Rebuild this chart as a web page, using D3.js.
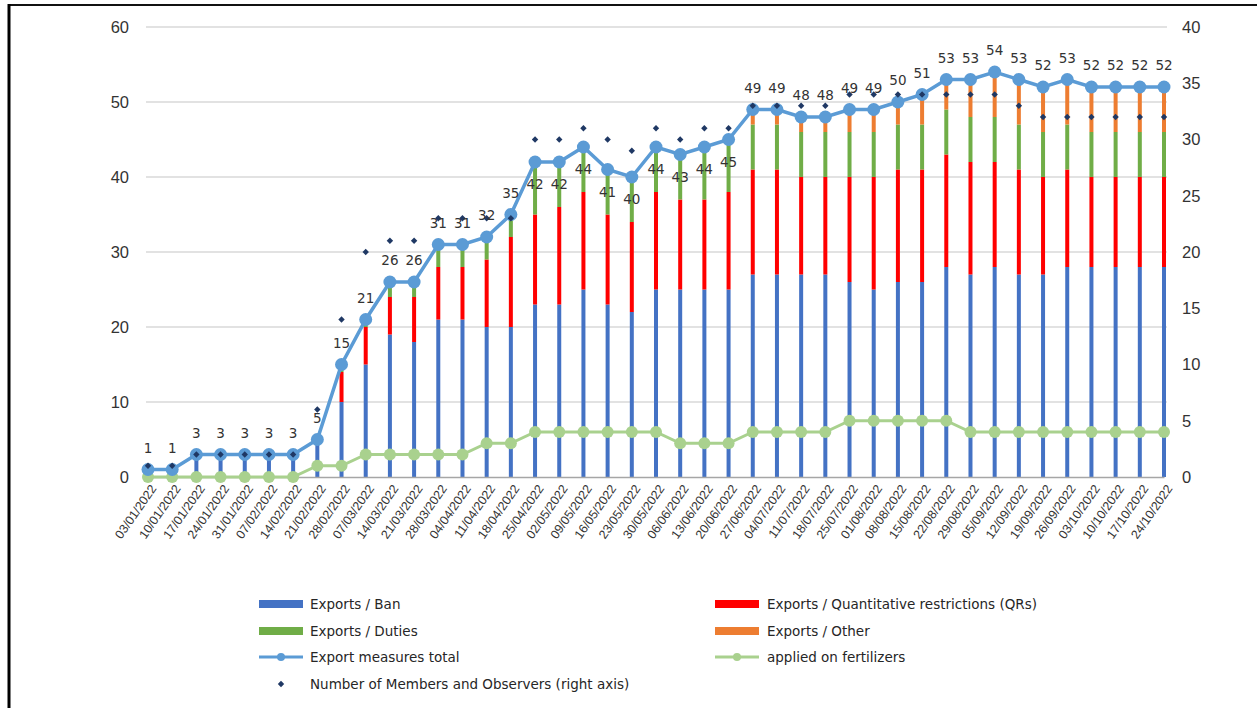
<!DOCTYPE html>
<html>
<head>
<meta charset="utf-8">
<script src="https://cdn.jsdelivr.net/npm/d3@7"></script>
<style>
  body { margin: 0; background: #fff; }
  svg { display: block; font-family: "DejaVu Sans", Verdana, sans-serif; }
</style>
</head>
<body>
<div id="chart"></div>
<script>
const dates = [
  '03/01/2022', '10/01/2022', '17/01/2022', '24/01/2022', '31/01/2022', '07/02/2022', '14/02/2022',
  '21/02/2022', '28/02/2022', '07/03/2022', '14/03/2022', '21/03/2022', '28/03/2022', '04/04/2022',
  '11/04/2022', '18/04/2022', '25/04/2022', '02/05/2022', '09/05/2022', '16/05/2022', '23/05/2022',
  '30/05/2022', '06/06/2022', '13/06/2022', '20/06/2022', '27/06/2022', '04/07/2022', '11/07/2022',
  '18/07/2022', '25/07/2022', '01/08/2022', '08/08/2022', '15/08/2022', '22/08/2022', '29/08/2022',
  '05/09/2022', '12/09/2022', '19/09/2022', '26/09/2022', '03/10/2022', '10/10/2022', '17/10/2022',
  '24/10/2022'
];

const ban = [1, 1, 3, 3, 3, 3, 3, 5, 10, 15, 19, 18, 21, 21, 20, 20, 23, 23, 25, 23, 22, 25, 25, 25, 25,
  27, 27, 27, 27, 26, 25, 26, 26, 28, 27, 28, 27, 27, 28, 28, 28, 28, 28];
const qrs = [0, 0, 0, 0, 0, 0, 0, 0, 4, 5, 5, 6, 7, 7, 9, 12, 12, 13, 13, 12, 12, 13, 12, 12, 13,
  14, 14, 13, 13, 14, 15, 15, 15, 15, 15, 14, 14, 13, 13, 12, 12, 12, 12];
const duties = [0, 0, 0, 0, 0, 0, 0, 0, 1, 1, 2, 2, 3, 3, 3, 3, 7, 6, 6, 6, 6, 6, 6, 7, 7,
  6, 6, 6, 6, 6, 6, 6, 6, 6, 6, 6, 6, 6, 6, 6, 6, 6, 6];
const other = [0, 0, 0, 0, 0, 0, 0, 0, 0, 0, 0, 0, 0, 0, 0, 0, 0, 0, 0, 0, 0, 0, 0, 0, 0,
  2, 2, 2, 2, 3, 3, 3, 4, 4, 5, 6, 6, 6, 6, 6, 6, 6, 6];
const total = [1, 1, 3, 3, 3, 3, 3, 5, 15, 21, 26, 26, 31, 31, 32, 35, 42, 42, 44, 41, 40, 44, 43, 44, 45,
  49, 49, 48, 48, 49, 49, 50, 51, 53, 53, 54, 53, 52, 53, 52, 52, 52, 52];
// right axis series
const fertilizers = [0, 0, 0, 0, 0, 0, 0, 1, 1, 2, 2, 2, 2, 2, 3, 3, 4, 4, 4, 4, 4, 4, 3, 3, 3,
  4, 4, 4, 4, 5, 5, 5, 5, 5, 4, 4, 4, 4, 4, 4, 4, 4, 4];
const members = [1, 1, 2, 2, 2, 2, 2, 6, 14, 20, 21, 21, 23, 23, 23, 23, 30, 30, 31, 30, 29, 31, 30, 31, 31,
  33, 33, 33, 33, 34, 34, 34, 34, 34, 34, 34, 33, 32, 32, 32, 32, 32, 32];

// data labels placed under the point
const labelsBelow = ['25/04/2022', '02/05/2022', '09/05/2022', '16/05/2022', '23/05/2022',
  '30/05/2022', '06/06/2022', '13/06/2022', '20/06/2022'];

const leftTicks = [0, 10, 20, 30, 40, 50, 60];
const rightTicks = [0, 5, 10, 15, 20, 25, 30, 35, 40];

const stackKeys = ['ban', 'qrs', 'duties', 'other'];
const stackColors = { ban: '#4472c4', qrs: '#ff0000', duties: '#70ad47', other: '#ed7d31' };

const width = 1257;
const height = 708;
const plotTop = 27;
const plotBottom = 477;

const rows = dates.map((d, i) => ({
  date: d, ban: ban[i], qrs: qrs[i], duties: duties[i], other: other[i],
  total: total[i], fert: fertilizers[i], members: members[i]
}));

const svg = d3.select('#chart')
  .append('svg')
  .attr('width', width)
  .attr('height', height);

// frame
svg.append('line').attr('x1', 8).attr('x2', width).attr('y1', 5).attr('y2', 5)
  .attr('stroke', '#111').attr('stroke-width', 2);
svg.append('line').attr('x1', 9).attr('x2', 9).attr('y1', 4).attr('y2', height)
  .attr('stroke', '#000').attr('stroke-width', 3);

const x = d3.scalePoint().domain(dates).range([148, 1164]);
const yLeft = d3.scaleLinear().domain([0, 60]).range([plotBottom, plotTop]);
const yRight = d3.scaleLinear().domain([0, 40]).range([plotBottom, plotTop]);

// gridlines
svg.append('g')
  .selectAll('line')
  .data(leftTicks.slice(1))
  .enter()
  .append('line')
  .attr('x1', 146)
  .attr('x2', 1167)
  .attr('y1', (d) => yLeft(d))
  .attr('y2', (d) => yLeft(d))
  .attr('stroke', '#d9d9d9')
  .attr('stroke-width', 1.5);

// stacked bars
const series = d3.stack().keys(stackKeys)(rows);
svg.append('g')
  .selectAll('g')
  .data(series)
  .enter()
  .append('g')
  .attr('fill', (s) => stackColors[s.key])
  .selectAll('rect')
  .data((s) => s)
  .enter()
  .append('rect')
  .attr('x', (d) => x(d.data.date) - 2)
  .attr('y', (d) => yLeft(d[1]))
  .attr('width', 4)
  .attr('height', (d) => yLeft(d[0]) - yLeft(d[1]));

// axes
const xAxis = svg.append('g')
  .attr('transform', `translate(0,${plotBottom})`)
  .call(d3.axisBottom(x).tickSize(0).tickSizeOuter(0));
xAxis.select('.domain').attr('stroke', '#a6a6a6').attr('stroke-width', 1.5);
xAxis.selectAll('text')
  .attr('x', 0)
  .attr('y', 0)
  .attr('dy', '0.35em')
  .attr('transform', 'translate(5,9) rotate(-55)')
  .attr('text-anchor', 'end')
  .attr('fill', '#333')
  .style('font-size', '12.5px');

const leftAxis = svg.append('g')
  .attr('transform', 'translate(131,0)')
  .call(d3.axisLeft(yLeft).tickValues(leftTicks).tickSize(0).tickPadding(2));
leftAxis.select('.domain').remove();
leftAxis.selectAll('text').attr('fill', '#333').style('font-size', '16.5px');

const rightAxis = svg.append('g')
  .attr('transform', 'translate(1179,0)')
  .call(d3.axisRight(yRight).tickValues(rightTicks).tickSize(0).tickPadding(3));
rightAxis.select('.domain').remove();
rightAxis.selectAll('text').attr('fill', '#333').style('font-size', '16.5px');

// fertilizers line (right axis)
svg.append('path')
  .datum(rows)
  .attr('fill', 'none')
  .attr('stroke', '#a9d18e')
  .attr('stroke-width', 3)
  .attr('d', d3.line().x((d) => x(d.date)).y((d) => yRight(d.fert)));
svg.append('g')
  .selectAll('circle')
  .data(rows)
  .enter()
  .append('circle')
  .attr('cx', (d) => x(d.date))
  .attr('cy', (d) => yRight(d.fert))
  .attr('r', 6)
  .attr('fill', '#a9d18e');

// total line (left axis)
svg.append('path')
  .datum(rows)
  .attr('fill', 'none')
  .attr('stroke', '#5b9bd5')
  .attr('stroke-width', 3.5)
  .attr('d', d3.line().x((d) => x(d.date)).y((d) => yLeft(d.total)));
svg.append('g')
  .selectAll('circle')
  .data(rows)
  .enter()
  .append('circle')
  .attr('cx', (d) => x(d.date))
  .attr('cy', (d) => yLeft(d.total))
  .attr('r', 6.5)
  .attr('fill', '#5b9bd5');

// members (right axis)
const diamond = d3.symbol().type(d3.symbolDiamond2).size(26);
svg.append('g')
  .selectAll('path')
  .data(rows)
  .enter()
  .append('path')
  .attr('d', diamond)
  .attr('transform', (d) => `translate(${x(d.date)},${yRight(d.members)})`)
  .attr('fill', '#1f3864');

// data labels
svg.append('g')
  .selectAll('text')
  .data(rows)
  .enter()
  .append('text')
  .attr('x', (d) => x(d.date))
  .attr('y', (d) => yLeft(d.total) + (labelsBelow.includes(d.date) ? 27 : -17))
  .attr('text-anchor', 'middle')
  .attr('fill', '#333')
  .style('font-size', '13.5px')
  .text((d) => d.total);

// legend
const legendItems = [
  { label: 'Exports / Ban', type: 'rect', color: '#4472c4', x: 259, y: 604 },
  { label: 'Exports / Quantitative restrictions (QRs)', type: 'rect', color: '#ff0000', x: 715, y: 604 },
  { label: 'Exports / Duties', type: 'rect', color: '#70ad47', x: 259, y: 631 },
  { label: 'Exports / Other', type: 'rect', color: '#ed7d31', x: 715, y: 631 },
  { label: 'Export measures total', type: 'line', color: '#5b9bd5', x: 259, y: 657 },
  { label: 'applied on fertilizers', type: 'line', color: '#a9d18e', x: 715, y: 657 },
  { label: 'Number of Members and Observers (right axis)', type: 'dot', color: '#1f3864', x: 259, y: 684 }
];

const legend = svg.append('g')
  .selectAll('g')
  .data(legendItems)
  .enter()
  .append('g')
  .attr('transform', (d) => `translate(${d.x},${d.y})`);

legend.filter((d) => d.type === 'rect')
  .append('rect')
  .attr('x', 0).attr('y', -4).attr('width', 44).attr('height', 8)
  .attr('fill', (d) => d.color);
legend.filter((d) => d.type === 'line')
  .append('line')
  .attr('x1', 0).attr('x2', 44).attr('y1', 0).attr('y2', 0)
  .attr('stroke', (d) => d.color).attr('stroke-width', 3);
legend.filter((d) => d.type === 'line')
  .append('circle')
  .attr('cx', 22).attr('cy', 0).attr('r', 4)
  .attr('fill', (d) => d.color);
legend.filter((d) => d.type === 'dot')
  .append('path')
  .attr('d', diamond)
  .attr('transform', 'translate(22,0)')
  .attr('fill', (d) => d.color);

legend.append('text')
  .attr('x', (d) => (d.x < 500 ? 51 : 52))
  .attr('y', 0)
  .attr('dy', '0.35em')
  .attr('fill', '#262626')
  .style('font-size', '13.5px')
  .text((d) => d.label);
</script>
</body>
</html>
